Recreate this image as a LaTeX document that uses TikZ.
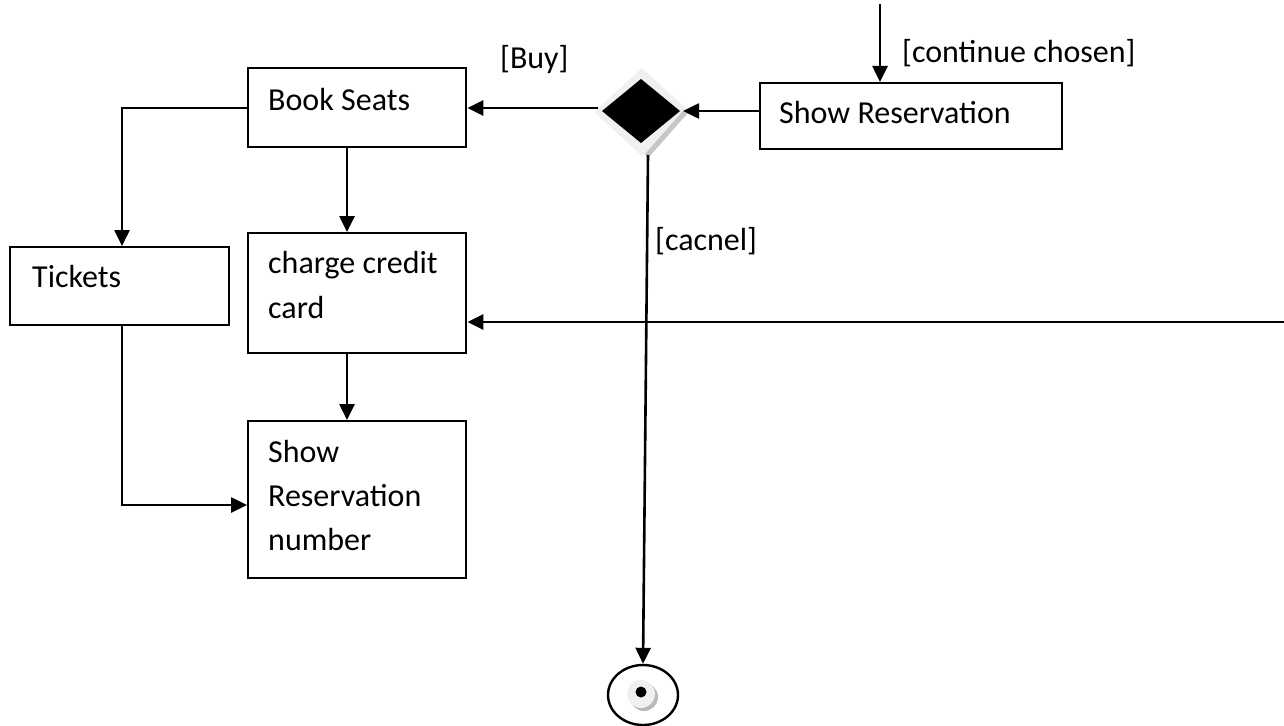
\documentclass[tikz,border=0pt]{standalone}
\usepackage{fontspec}
\setmainfont{Carlito}
\usetikzlibrary{arrows.meta,shapes.geometric}
\tikzset{
  box/.style={draw, line width=2.4pt, anchor=north west, inner sep=0pt},
  txt/.style={anchor=base west, inner sep=0pt, font=\fontsize{32}{44}\selectfont},
  conn/.style={line width=2.6pt, -{Triangle[length=16pt,width=15pt]}},
}
\begin{document}
\begin{tikzpicture}[x=1pt,y=-1pt]
\useasboundingbox (0,0) rectangle (1284,725);
% boxes
\node[box, minimum width=218pt, minimum height=79pt] (book) at (247,67) {};
\node[box, minimum width=219pt, minimum height=78pt] (tick) at (9,246) {};
\node[box, minimum width=218pt, minimum height=120pt] (charge) at (247,232) {};
\node[box, minimum width=218pt, minimum height=157pt] (shownum) at (247,420) {};
\node[box, minimum width=302pt, minimum height=66pt] (showres) at (759,82) {};
% texts
\node[txt] (tbook) at (268,110) {Book Seats};
\node[txt] (ttick) at (32,287) {Tickets};
\node[txt] (tcharge1) at (268,273) {charge credit};
\node[txt] (tcharge2) at (268,318) {card};
\node[txt] (tnum1) at (268,462) {Show};
\node[txt] (tnum2) at (268,506) {Reservation};
\node[txt] (tnum3) at (268,550) {number};
\node[txt] (tshowres) at (779,123) {Show Reservation};
\node[txt] (lbuy) at (500,69) {[Buy]};
\node[txt] (lcont) at (902,63) {[continue chosen]};
\node[txt] (lcan) at (655,250) {[cacnel]};
% decision diamond
\node[diamond, fill=gray!12, minimum width=96pt, minimum height=88pt, inner sep=0pt] (dec) at (642,112) {};
\fill[gray!45] (687,114) -- (648,158) -- (645,154) -- (683,111) -- cycle;
\fill[black] (602,111) -- (641,79) -- (680,111) -- (641,143) -- cycle;
% final node
\node[ellipse, draw, line width=2.4pt, minimum width=70pt, minimum height=60pt, inner sep=0pt] (final) at (643,695) {};
\fill[gray!55] (644,697) circle (14pt);
\fill[gray!12] (641,694) circle (14pt);
\fill[black] (641,692) circle (5.5pt);
% connectors
\coordinate (topin) at (880,4);
\coordinate (rightin) at (1284,322);
\draw[conn] (topin) -- (880,82);
\draw[conn] (showres.west |- 0,111) -- (683,111);
\draw[conn] (598,108) -- (book.east |- 0,108);
\draw[conn] (book.west |- 0,108) -- (122,108) -- (122,246);
\draw[conn] (book.south -| 347,0) -- (347,232);
\draw[conn] (347,352) -- (347,420);
\draw[conn] (122,324) -- (122,505) -- (shownum.west |- 0,505);
\draw[conn] (rightin) -- (charge.east |- 0,322);
\draw[conn] (648,155) -- (final.north);
\end{tikzpicture}
\end{document}
